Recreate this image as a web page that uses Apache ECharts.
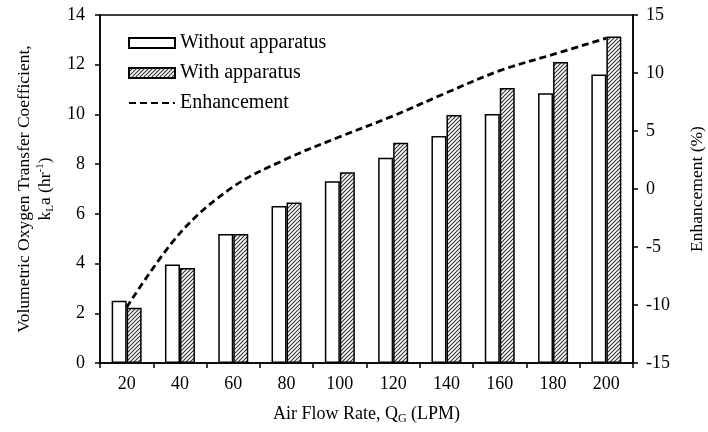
<!DOCTYPE html>
<html>
<head>
<meta charset="utf-8">
<script src="https://cdn.jsdelivr.net/npm/echarts@6/dist/echarts.min.js"></script>
<style>
html,body{margin:0;padding:0;background:#fff;}
#chart{width:708px;height:432px;}
</style>
</head>
<body>
<div id="chart"></div>
<script>
var categories = ['20','40','60','80','100','120','140','160','180','200'];
var withoutApparatus = [2.5, 3.96, 5.19, 6.32, 7.31, 8.26, 9.13, 10.02, 10.85, 11.61];
var withApparatus = [2.22, 3.82, 5.19, 6.46, 7.67, 8.86, 9.98, 11.06, 12.11, 13.14];
var enhancement = [-10.2, -3.8, 0.2, 2.6, 4.5, 6.3, 8.3, 10.2, 11.6, 13.0];
var leftTicks = [0, 14, 2];
var rightTicks = [-15, 15, 5];

function hatch() {
  var s = 4;
  var c = document.createElement('canvas');
  c.width = s; c.height = s;
  var g = c.getContext('2d');
  g.fillStyle = '#fff';
  g.fillRect(0, 0, s, s);
  g.strokeStyle = '#333';
  g.lineWidth = 1.1;
  g.beginPath();
  g.moveTo(-1, s + 1); g.lineTo(s + 1, -1);
  g.moveTo(-1, 1); g.lineTo(1, -1);
  g.moveTo(s - 1, s + 1); g.lineTo(s + 1, s - 1);
  g.stroke();
  return c;
}

var font = 'Liberation Serif';
var chart = echarts.init(document.getElementById('chart'));
chart.setOption({
  animation: false,
  backgroundColor: '#fff',
  textStyle: { fontFamily: font, color: '#000' },
  grid: { left: 100, right: 75, top: 15, bottom: 69, containLabel: false, outerBoundsMode: 'none', show: true, borderColor: '#000', borderWidth: 1.5 },
  legend: {
    orient: 'vertical',
    left: 128, top: 33,
    padding: 0,
    itemWidth: 46, itemHeight: 10, itemGap: 10,
    textStyle: { fontFamily: font, fontSize: 20, color: '#000' },
    data: [
      { name: 'Without apparatus', icon: 'rect' },
      { name: 'With apparatus', icon: 'rect' },
      { name: 'Enhancement', itemStyle: { opacity: 0 } }
    ]
  },
  xAxis: {
    type: 'category',
    data: categories,
    boundaryGap: true,
    axisLine: { lineStyle: { color: '#000', width: 1.5 } },
    axisTick: { show: true, length: 5, lineStyle: { color: '#000', width: 1.5 } },
    axisLabel: { fontFamily: font, fontSize: 18, color: '#000', margin: 12 },
    name: '{n|Air Flow Rate, Q}{sub|G}{n| (LPM)}',
    nameLocation: 'middle',
    nameGap: 40,
    nameTextStyle: {
      rich: {
        n: { fontFamily: font, fontSize: 18, color: '#000', lineHeight: 22 },
        sub: { fontFamily: font, fontSize: 12, color: '#000', verticalAlign: 'bottom', lineHeight: 14 }
      }
    }
  },
  yAxis: [{
    type: 'value',
    min: leftTicks[0], max: leftTicks[1], interval: leftTicks[2],
    axisLine: { show: true, lineStyle: { color: '#000', width: 1.5 } },
    axisTick: { show: true, length: 5, lineStyle: { color: '#000', width: 1.5 } },
    splitLine: { show: false },
    axisLabel: { fontFamily: font, fontSize: 18, color: '#000', margin: 15 },
    name: '{n|Volumetric Oxygen Transfer Coefficient,}\n{n|k}{sub|L}{n|a (hr}{sup|-1}{n|)}',
    nameLocation: 'middle',
    nameRotate: 90,
    nameGap: 40,
    nameTextStyle: {
      align: 'center',
      rich: {
        n: { fontFamily: font, fontSize: 17.5, color: '#000', lineHeight: 21, align: 'center' },
        sub: { fontFamily: font, fontSize: 11, color: '#000', verticalAlign: 'bottom', lineHeight: 15 },
        sup: { fontFamily: font, fontSize: 11, color: '#000', verticalAlign: 'top', lineHeight: 15 }
      }
    }
  }, {
    type: 'value',
    position: 'right',
    min: rightTicks[0], max: rightTicks[1], interval: rightTicks[2],
    axisLine: { show: true, lineStyle: { color: '#000', width: 1.5 } },
    axisTick: { show: true, length: 5, lineStyle: { color: '#000', width: 1.5 } },
    splitLine: { show: false },
    axisLabel: { fontFamily: font, fontSize: 18, color: '#000', margin: 13 },
    name: 'Enhancement (%)',
    nameLocation: 'middle',
    nameRotate: 90,
    nameGap: 55,
    nameTextStyle: { fontFamily: font, fontSize: 17.5, color: '#000' }
  }],
  series: [{
    name: 'Without apparatus',
    type: 'bar',
    data: withoutApparatus,
    barWidth: 15,
    barGap: '0%',
    itemStyle: { color: '#fff', borderColor: '#000', borderWidth: 1.5 }
  }, {
    name: 'With apparatus',
    type: 'bar',
    data: withApparatus,
    barWidth: 15,
    barGap: '0%',
    itemStyle: { color: { image: hatch(), repeat: 'repeat' }, borderColor: '#000', borderWidth: 1.5 }
  }, {
    name: 'Enhancement',
    type: 'line',
    yAxisIndex: 1,
    data: enhancement,
    smooth: 0.35,
    symbol: 'none',
    z: 5,
    lineStyle: { color: '#000', width: 2.8, type: [7, 4] },
    itemStyle: { color: '#000' }
  }]
});
</script>
</body>
</html>
